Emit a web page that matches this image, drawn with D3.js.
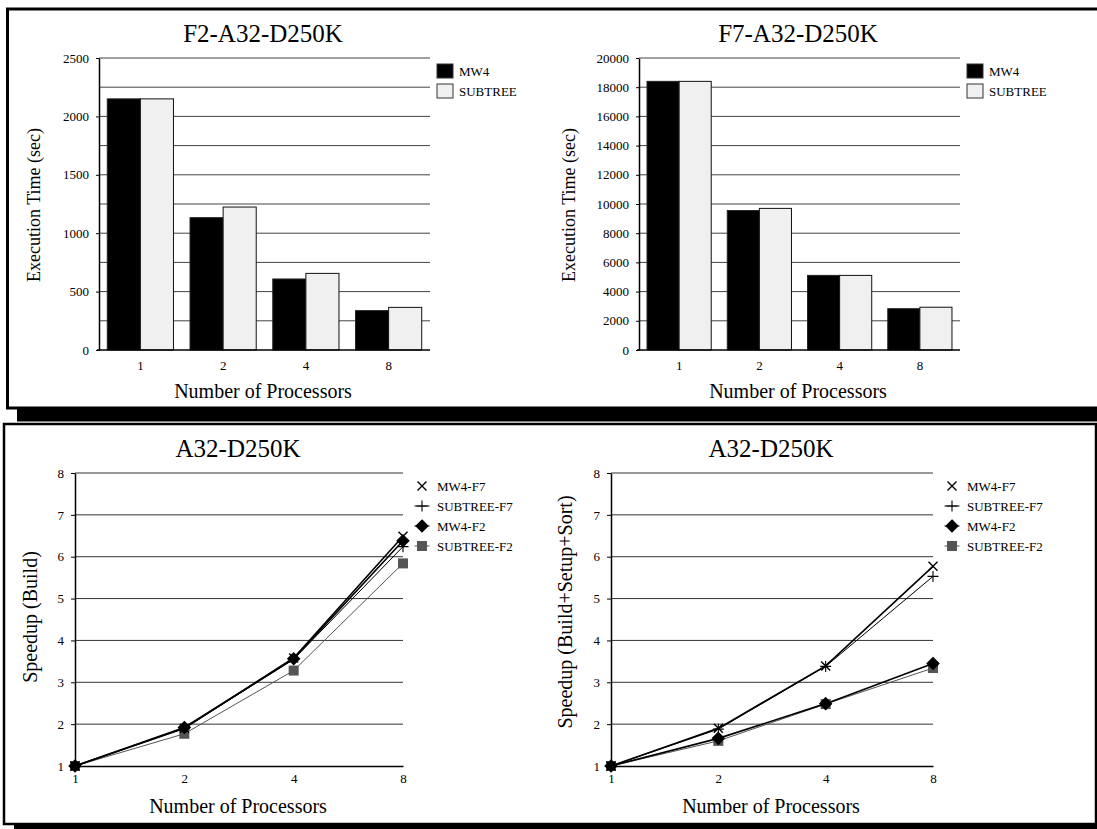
<!DOCTYPE html>
<html>
<head>
<meta charset="utf-8">
<script src="https://cdn.jsdelivr.net/npm/d3@7"></script>
<style>
  body { margin: 0; background: #fff; }
  svg { display: block; font-family: "Liberation Serif", "Times New Roman", serif; }
</style>
</head>
<body>
<svg id="fig" width="1097" height="829"></svg>
<script>
// data
var procs = ["1", "2", "4", "8"];
var barSeries = ["MW4", "SUBTREE"];
var f2Mw4 = [2150, 1133, 608, 337];
var f2Subtree = [2150, 1224, 656, 365];
var f7Mw4 = [18400, 9550, 5110, 2830];
var f7Subtree = [18400, 9700, 5110, 2930];

var lineSeries = ["MW4-F7", "SUBTREE-F7", "MW4-F2", "SUBTREE-F2"];
var buildMw4F7 = [1, 1.9, 3.58, 6.49];
var buildSubtreeF7 = [1, 1.9, 3.55, 6.24];
var buildMw4F2 = [1, 1.92, 3.56, 6.38];
var buildSubtreeF2 = [1, 1.77, 3.28, 5.84];
var totalMw4F7 = [1, 1.9, 3.39, 5.77];
var totalSubtreeF7 = [1, 1.88, 3.38, 5.53];
var totalMw4F2 = [1, 1.66, 2.49, 3.45];
var totalSubtreeF2 = [1, 1.6, 2.48, 3.34];

var serif = '"Liberation Serif", "Times New Roman", serif';
var svg = d3.select("#fig");

// framed panels with a black drop shadow
function panel(x, y, w, h, sw, dx, dy) {
    svg.append("rect").attr("x", x + dx).attr("y", y + dy)
        .attr("width", w).attr("height", h).attr("fill", "#000");
    svg.append("rect").attr("x", x).attr("y", y)
        .attr("width", w).attr("height", h)
        .attr("fill", "#fff").attr("stroke", "#000").attr("stroke-width", sw);
}
panel(7.5, 9, 1100, 399, 3, 9.5, 13.5);
panel(4, 424, 1092, 400, 2.5, 10, 5);

function labels(o) {
    svg.append("text").attr("x", o.cx).attr("y", o.titleY)
        .attr("text-anchor", "middle").style("font-size", "25px").text(o.title);
    svg.append("text").attr("x", o.cx).attr("y", o.xlabY)
        .attr("text-anchor", "middle").style("font-size", "20px").text("Number of Processors");
    svg.append("text").attr("transform", "translate(" + o.ylabX + "," + o.ylabCY + ") rotate(-90)")
        .attr("text-anchor", "middle").style("font-size", o.ylabSize + "px").text(o.ylab);
}

function styleAxis(a) {
    a.attr("font-family", serif).attr("font-size", 13);
    a.select(".domain").attr("stroke-width", 1.5);
}

function barChart(o) {
    var g = svg.append("g");
    var x = d3.scaleBand().domain(procs).range([o.x0, o.x1]).paddingInner(0.2).paddingOuter(0.1);
    var xs = d3.scaleBand().domain(barSeries).range([0, x.bandwidth()]);
    var y = d3.scaleLinear().domain([0, o.max]).range([o.y1, o.y0]);

    // grid
    g.selectAll(".grid").data(o.grid).enter().append("line")
        .attr("x1", o.x0).attr("x2", o.x1)
        .attr("y1", function (d) { return y(d); }).attr("y2", function (d) { return y(d); })
        .attr("stroke", "#444").attr("stroke-width", 1);

    var rows = procs.map(function (p, i) {
        return { p: p, vals: [o.a[i], o.b[i]] };
    });
    var grp = g.selectAll(".grp").data(rows).enter().append("g")
        .attr("transform", function (d) { return "translate(" + x(d.p) + ",0)"; });
    grp.selectAll("rect").data(function (d) {
        return d.vals.map(function (v, j) { return { s: barSeries[j], v: v }; });
    }).enter().append("rect")
        .attr("x", function (d) { return xs(d.s); })
        .attr("width", xs.bandwidth())
        .attr("y", function (d) { return y(d.v); })
        .attr("height", function (d) { return y(0) - y(d.v); })
        .attr("fill", function (d) { return d.s === "MW4" ? "#000" : "#f0f0f0"; })
        .attr("stroke", function (d) { return d.s === "MW4" ? "#222" : "#111"; })
        .attr("stroke-width", 1);

    var ya = g.append("g").attr("transform", "translate(" + o.x0 + ",0)")
        .call(d3.axisLeft(y).tickValues(o.ticks).tickSizeInner(3).tickSizeOuter(0).tickPadding(7).tickFormat(d3.format("d")));
    styleAxis(ya);

    var xa = g.append("g").attr("transform", "translate(0," + o.y1 + ")")
        .call(d3.axisBottom(x).tickSize(0).tickPadding(11));
    styleAxis(xa);
    xa.select(".domain").attr("d", "M" + (o.x0 - 2) + ",0H" + o.x1);

    // legend
    var leg = g.selectAll(".leg").data(barSeries).enter().append("g")
        .attr("transform", function (d, i) { return "translate(" + o.legX + "," + (64 + i * 20) + ")"; });
    leg.append("rect").attr("width", 16).attr("height", 14)
        .attr("fill", function (d) { return d === "MW4" ? "#000" : "#f0f0f0"; })
        .attr("stroke", "#333");
    leg.append("text").attr("x", 22).attr("y", 7).attr("dy", "0.35em")
        .style("font-size", "13px").text(function (d) { return d; });

    labels(o);
}

function markerPath(k) {
    if (k === 0) return "M-4.5,-4.5L4.5,4.5M-4.5,4.5L4.5,-4.5";
    if (k === 1) return "M-5.5,0H5.5M0,-5.5V5.5";
    if (k === 2) return "M0,-6L6,0L0,6L-6,0Z";
    return "M-5,-5H5V5H-5Z";
}
var lineColor = ["#000", "#000", "#000", "#555"];
var lineWidth = [1.6, 1, 1.6, 1];

function lineChart(o) {
    var g = svg.append("g");
    var x = d3.scalePoint().domain(procs).range([o.x0, o.x1]);
    var y = d3.scaleLinear().domain([1, 8]).range([o.y1, o.y0]);

    g.selectAll(".grid").data(d3.range(2, 9)).enter().append("line")
        .attr("x1", o.x0).attr("x2", o.x1)
        .attr("y1", function (d) { return y(d); }).attr("y2", function (d) { return y(d); })
        .attr("stroke", "#333").attr("stroke-width", 1);

    var ya = g.append("g").attr("transform", "translate(" + o.x0 + ",0)")
        .call(d3.axisLeft(y).ticks(7).tickSizeInner(4).tickSizeOuter(0).tickPadding(7));
    styleAxis(ya);

    var xa = g.append("g").attr("transform", "translate(0," + o.y1 + ")")
        .call(d3.axisBottom(x).tickSize(0).tickPadding(8));
    styleAxis(xa);

    var line = d3.line()
        .x(function (d, i) { return x(procs[i]); })
        .y(function (d) { return y(d); });

    // draw back to front so the thin lines sit under the black ones
    [3, 1, 2, 0].forEach(function (k) {
        var vals = o.series[k];
        g.append("path").attr("d", line(vals)).attr("fill", "none")
            .attr("stroke", lineColor[k]).attr("stroke-width", lineWidth[k]);
        g.selectAll(".m" + k).data(vals).enter().append("path")
            .attr("transform", function (d, i) { return "translate(" + x(procs[i]) + "," + y(d) + ")"; })
            .attr("d", markerPath(k))
            .attr("fill", k === 2 ? "#000" : k === 3 ? "#555" : "none")
            .attr("stroke", k === 3 ? "none" : "#000")
            .attr("stroke-width", k === 0 ? 1.4 : 1.1);
    });

    var leg = g.selectAll(".leg").data(lineSeries).enter().append("g")
        .attr("transform", function (d, i) { return "translate(" + o.legX + "," + (486 + i * 20) + ")"; });
    leg.filter(function (d, i) { return i > 0; }).append("line")
        .attr("x1", -7.5).attr("x2", 7.5)
        .attr("stroke", function (d, i) { return lineColor[i + 1]; }).attr("stroke-width", 1);
    leg.append("path").attr("d", function (d, i) { return markerPath(i); })
        .attr("fill", function (d, i) { return i === 2 ? "#000" : i === 3 ? "#555" : "none"; })
        .attr("stroke", function (d, i) { return i === 3 ? "none" : "#000"; })
        .attr("stroke-width", function (d, i) { return i === 0 ? 1.4 : 1.1; });
    leg.append("text").attr("x", 15).attr("dy", "0.35em")
        .style("font-size", "13px").text(function (d) { return d; });

    labels(o);
}

barChart({
    x0: 99, x1: 430, y0: 58, y1: 350, max: 2500,
    grid: d3.range(250, 2501, 250), ticks: d3.range(0, 2501, 500),
    a: f2Mw4, b: f2Subtree, legX: 437,
    title: "F2-A32-D250K", cx: 263, titleY: 42, xlabY: 398,
    ylab: "Execution Time (sec)", ylabX: 40, ylabCY: 205, ylabSize: 18
});
barChart({
    x0: 639, x1: 960, y0: 58, y1: 350, max: 20000,
    grid: d3.range(2000, 20001, 2000), ticks: d3.range(0, 20001, 2000),
    a: f7Mw4, b: f7Subtree, legX: 967,
    title: "F7-A32-D250K", cx: 798, titleY: 42, xlabY: 398,
    ylab: "Execution Time (sec)", ylabX: 575, ylabCY: 205, ylabSize: 18
});
lineChart({
    x0: 75, x1: 403, y0: 473, y1: 766,
    series: [buildMw4F7, buildSubtreeF7, buildMw4F2, buildSubtreeF2], legX: 422,
    title: "A32-D250K", cx: 238, titleY: 457, xlabY: 813,
    ylab: "Speedup (Build)", ylabX: 37, ylabCY: 617, ylabSize: 20
});
lineChart({
    x0: 611, x1: 933, y0: 473, y1: 766,
    series: [totalMw4F7, totalSubtreeF7, totalMw4F2, totalSubtreeF2], legX: 952,
    title: "A32-D250K", cx: 771, titleY: 457, xlabY: 813,
    ylab: "Speedup (Build+Setup+Sort)", ylabX: 572, ylabCY: 612, ylabSize: 20
});
</script>
</body>
</html>
